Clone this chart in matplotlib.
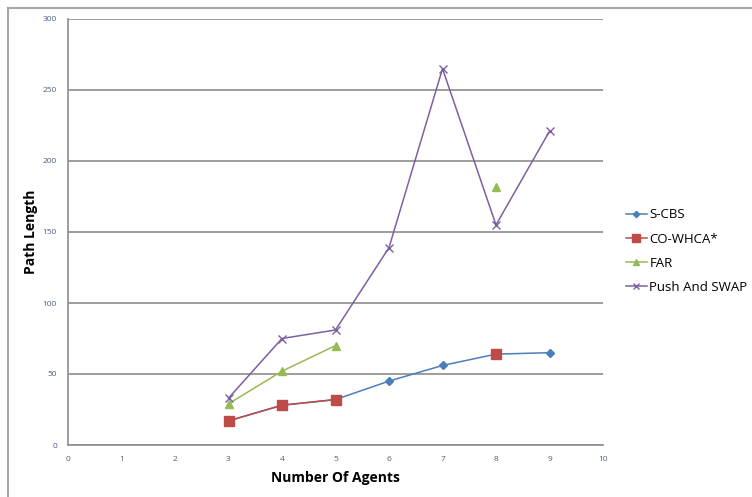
import matplotlib
matplotlib.use("Agg")
import matplotlib.pyplot as plt
from matplotlib.lines import Line2D
import numpy as np

agents = [3, 4, 5, 6, 7, 8, 9]
s_cbs = [17, 28, 32, 45, 56, 64, 65]
co_whca = [17, 28, 32, None, None, 64, None]
far = [29, 52, 70, None, None, 182, None]
push_swap = [33, 75, 81, 139, 265, 155, 221]

def arr(v):
    return np.array([np.nan if x is None else x for x in v], dtype=float)

plt.rcParams['font.family'] = ['Open Sans', 'DejaVu Sans']

fig = plt.figure(figsize=(7.52, 4.97), dpi=100)
ax = fig.add_axes([68/752, 1-445/497, (603-68)/752, (445-19)/497])

ax.plot(agents, arr(s_cbs), color='#4a7ebb', marker='D', markersize=4, lw=1.1, label='S-CBS')
ax.plot(agents, arr(co_whca), color='#be4b48', marker='s', markersize=6.5, lw=1.1, label='CO-WHCA*')
ax.plot(agents, arr(far), color='#98b954', marker='^', markersize=6, lw=1.1, label='FAR')
ax.plot(agents, arr(push_swap), color='#7d60a0', marker='x', markersize=6, lw=1.1, label='Push And SWAP')

ax.set_xlim(0, 10)
ax.set_ylim(0, 300)
ax.set_xticks(range(0, 11))
ax.set_yticks(range(0, 301, 50))
ax.yaxis.grid(True, color='#8c8c8c', lw=1.2)
ax.set_axisbelow(True)
for s in ['top', 'right']:
    ax.spines[s].set_visible(False)
for s in ['left', 'bottom']:
    ax.spines[s].set_color('#8c8c8c')
    ax.spines[s].set_linewidth(1.2)
ax.tick_params(length=0, labelsize=6, labelcolor='#4d5d7a', pad=8)
ax.set_xlabel('Number Of Agents', fontsize=10, fontweight='bold', labelpad=6)
ax.set_ylabel('Path Length', fontsize=10, fontweight='bold', labelpad=3)

leg = ax.legend(loc='center left', bbox_to_anchor=(1.02, 0.455), frameon=False,
                fontsize=9.5, handlelength=1.6, handletextpad=0.2, labelspacing=0.85,
                markerscale=0.8)

fig.add_artist(Line2D([8/752, 1], [1-8/497, 1-8/497], color='#a6a6a6', lw=1.5))
fig.add_artist(Line2D([8/752, 8/752], [0, 1-8/497], color='#a6a6a6', lw=1.5))

fig.savefig('out.png', dpi=100)
